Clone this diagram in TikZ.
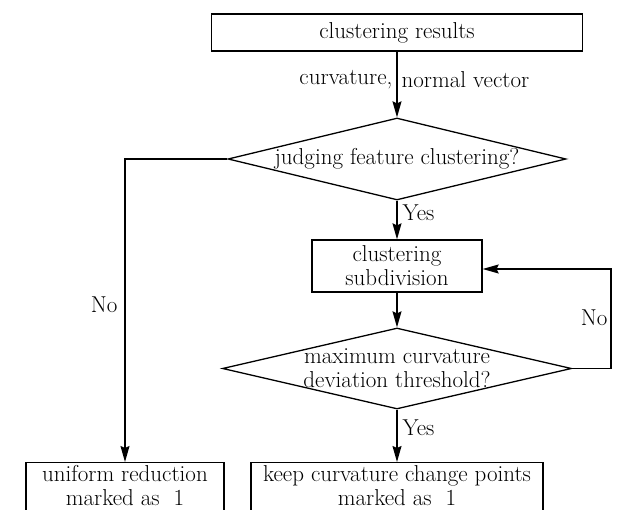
\documentclass[tikz,border=0pt]{standalone}
\usetikzlibrary{arrows.meta,shapes.geometric}
\begin{document}
\begin{tikzpicture}[x=1pt,y=-1pt,
  every node/.style={font=\fontsize{23}{24}\selectfont},
  box/.style={draw,line width=1.3pt,rectangle,inner sep=0pt,align=center},
  cutbox/.style={box,anchor=north,inner ysep=3pt,text depth=20pt},
  dia/.style={draw,line width=1.3pt,diamond,inner sep=0pt,aspect=4},
  dtext/.style={align=center,inner sep=0pt,font=\fontsize{23}{24}\selectfont},
  conn/.style={line width=1.3pt,-{Stealth[length=16pt,width=9pt,inset=2pt]}},
  lbl/.style={inner sep=0pt}
]
\useasboundingbox (0,0) rectangle (619,510);
\clip (0,0) rectangle (619,510);
\fill[white] (0,0) rectangle (619,510);

\node[box,minimum width=371pt,minimum height=37pt] (top) at (397,32.5) {clustering results};
\node[dia,minimum width=338pt,minimum height=82pt,
      label={[dtext]center:judging feature clustering?}] (d1) at (397,159) {};
\node[box,minimum width=170pt,minimum height=52pt] (sub) at (397,266) {clustering\\subdivision};
\node[dia,minimum width=349pt,minimum height=81pt,
      label={[dtext]center:maximum curvature\\deviation threshold?}] (d2) at (397,368.5) {};
\node[cutbox,minimum width=198pt] (uni) at (125,462) {uniform reduction\\marked as~~1};
\node[cutbox,minimum width=292pt] (keep) at (397,462) {keep curvature change points\\marked as~~1};

\coordinate (fb) at (611,269);

\draw[conn] (top.south) -- (d1.north)
  node[pos=0.42,lbl,anchor=east,xshift=-4pt] {curvature,}
  node[pos=0.42,lbl,anchor=west,xshift=4pt] {normal vector};
\draw[conn] (d1.south) -- (sub.north)
  node[pos=0.32,lbl,anchor=west,xshift=5pt] {Yes};
\draw[conn] (d1.west) -| (uni.north)
  node[pos=0.74,lbl,anchor=east,xshift=-7pt] {No};
\draw[conn] (sub.south) -- (d2.north);
\draw[conn] (d2.east) -| (fb) -- (sub.east |- fb)
  node[pos=0,lbl,anchor=east,xshift=-3pt,yshift=-49pt] {No};
\draw[conn] (d2.south) -- (keep.north)
  node[pos=0.34,lbl,anchor=west,xshift=5pt] {Yes};
\end{tikzpicture}
\end{document}
